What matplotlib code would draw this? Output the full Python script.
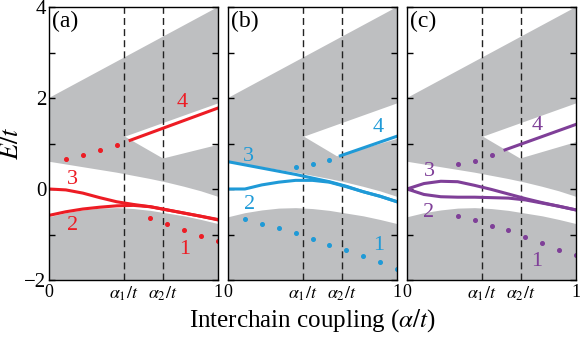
import matplotlib
matplotlib.use('Agg')
import matplotlib.pyplot as plt
import numpy as np

plt.rcParams['font.family'] = ['Liberation Serif', 'DejaVu Serif']
plt.rcParams['mathtext.fontset'] = 'stix'

# critical couplings
a1 = 0.443
a2 = 0.675

# continuum bands (shared by all panels)
grid = [0.0, 0.1, 0.2, 0.3, 0.4, 0.5, 0.6, 0.7, 0.8, 0.9, 1.0]
band_top = [0.60, 0.54, 0.48, 0.42, 0.36, 0.29, 0.22, 0.14, 0.05, -0.05, -0.17]
band_bot = [-0.61, -0.52, -0.46, -0.42, -0.41, -0.43, -0.47, -0.53, -0.59, -0.67, -0.76]
edge_x = [1.0, 0.0]
edge_y = [4.0, 2.0]

# white wedge in the upper band: apex, top right, bottom right, bottom vertex
wedge_x = {'a': [0.45, 1.0, 1.0, 0.675], 'b': [0.45, 1.0, 1.0, 0.645], 'c': [0.45, 1.0, 1.0, 0.67]}
wedge_y = {'a': [1.15, 1.88, 0.97, 0.67], 'b': [1.15, 1.88, 1.10, 0.72], 'c': [1.15, 1.88, 1.03, 0.67]}

# bound states
line3 = {
    'a': [0.0, -0.02, -0.09, -0.19, -0.28, -0.34, -0.39, -0.46, -0.53, -0.60, -0.68],
    'b': [0.60, 0.53, 0.46, 0.39, 0.32, 0.24, 0.16, 0.06, -0.06, -0.16, -0.28],
    'c': [0.0, 0.12, 0.17, 0.16, 0.08, -0.01, -0.11, -0.21, -0.30, -0.38, -0.46],
}
line2 = {
    'a': [-0.58, -0.50, -0.44, -0.40, -0.37, -0.36, -0.39, -0.46, -0.53, -0.60, -0.67],
    'b': [0.0, 0.0, 0.09, 0.15, 0.19, 0.19, 0.15, 0.05, -0.06, -0.16, -0.28],
    'c': [0.0, -0.12, -0.17, -0.18, -0.18, -0.19, -0.20, -0.24, -0.31, -0.38, -0.46],
}
line4_x = {'a': [0.48, 1.0], 'b': [0.665, 1.0], 'c': [0.58, 1.0]}
line4_y = {'a': [1.07, 1.78], 'b': [0.73, 1.16], 'c': [0.86, 1.42]}

# resonances (dots)
dots_up_x = {'a': [0.1, 0.2, 0.3, 0.4], 'b': [0.4, 0.5, 0.6], 'c': [0.3, 0.4, 0.5]}
dots_up_y = {'a': [0.66, 0.75, 0.86, 0.97], 'b': [0.48, 0.55, 0.63], 'c': [0.54, 0.62, 0.75]}
dots_lo_x = {'a': [0.6, 0.7, 0.8, 0.9, 1.0],
             'b': [0.1, 0.2, 0.3, 0.4, 0.5, 0.6, 0.7, 0.8, 0.9, 1.0],
             'c': [0.3, 0.4, 0.5, 0.6, 0.7, 0.8, 0.9, 1.0]}
dots_lo_y = {'a': [-0.64, -0.78, -0.90, -1.03, -1.15],
             'b': [-0.66, -0.76, -0.86, -0.97, -1.10, -1.22, -1.34, -1.48, -1.61, -1.75],
             'c': [-0.59, -0.69, -0.81, -0.90, -1.05, -1.18, -1.34, -1.45]}

# label positions for 1..4
lab_pos = {
    'a': [(0.80, -1.34), (0.14, -0.81), (0.14, 0.20), (0.79, 1.90)],
    'b': [(0.89, -1.24), (0.13, -0.33), (0.12, 0.71), (0.89, 1.35)],
    'c': [(0.77, -1.59), (0.13, -0.52), (0.13, 0.39), (0.77, 1.40)],
}
colors = {'a': '#ed1c24', 'b': '#1f9ad7', 'c': '#7f3f98'}
gray = '#bebfc1'

fig = plt.figure(figsize=(5.81, 3.38), dpi=100)
lefts = [49 / 581, 228 / 581, 407 / 581]
w = 169 / 581
b = 58 / 338
h = 273 / 338

for i, key in enumerate(['a', 'b', 'c']):
    ax = fig.add_axes([lefts[i], b, w, h])
    col = colors[key]
    ax.fill_between(grid, -2, band_bot, color=gray, lw=0)
    ax.fill(list(grid) + edge_x, list(band_top) + edge_y, color=gray, lw=0)
    ax.fill(wedge_x[key], wedge_y[key], color='white', lw=0)
    for xv in [a1, a2]:
        ax.axvline(xv, color='#222222', ls=(0, (5, 3)), lw=1.0)
    ax.plot(grid, line3[key], color=col, lw=2.2)
    ax.plot(grid, line2[key], color=col, lw=2.2)
    ax.plot(line4_x[key], line4_y[key], color=col, lw=2.2)
    ax.plot(dots_up_x[key], dots_up_y[key], 'o', color=col, ms=2.6)
    ax.plot(dots_lo_x[key], dots_lo_y[key], 'o', color=col, ms=2.6)
    for n, (x, y) in enumerate(lab_pos[key]):
        ax.text(x, y, str(n + 1), color=col, fontsize=16, ha='center', va='center')
    ax.text(0.015, 0.985, '(%s)' % key, transform=ax.transAxes, fontsize=17,
            ha='left', va='top')
    ax.set_xlim(0, 1)
    ax.set_ylim(-2, 4)
    ax.set_yticks([-2, -1, 0, 1, 2, 3, 4])
    if i == 0:
        ax.set_yticklabels(['\u22122', '', '0', '', '2', '', '4'])
        ax.set_ylabel('$E/t$', fontsize=19, labelpad=1)
    else:
        ax.set_yticklabels([])
    ax.set_xticks([0, a1, a2, 1])
    ax.set_xticklabels(['0', r'$\alpha_1/t$', r'$\alpha_2/t$', '1'])
    ax.tick_params(axis='y', direction='in', left=True, right=True, length=4,
                   width=1, labelsize=15, pad=2)
    ax.tick_params(axis='x', length=0, labelsize=13, pad=3)
    for s in ax.spines.values():
        s.set_linewidth(1)

fig.text(0.538, 0.012, r'Interchain coupling ($\alpha/t$)', fontsize=18,
         ha='center', va='bottom')

fig.savefig('out.png', dpi=100)
